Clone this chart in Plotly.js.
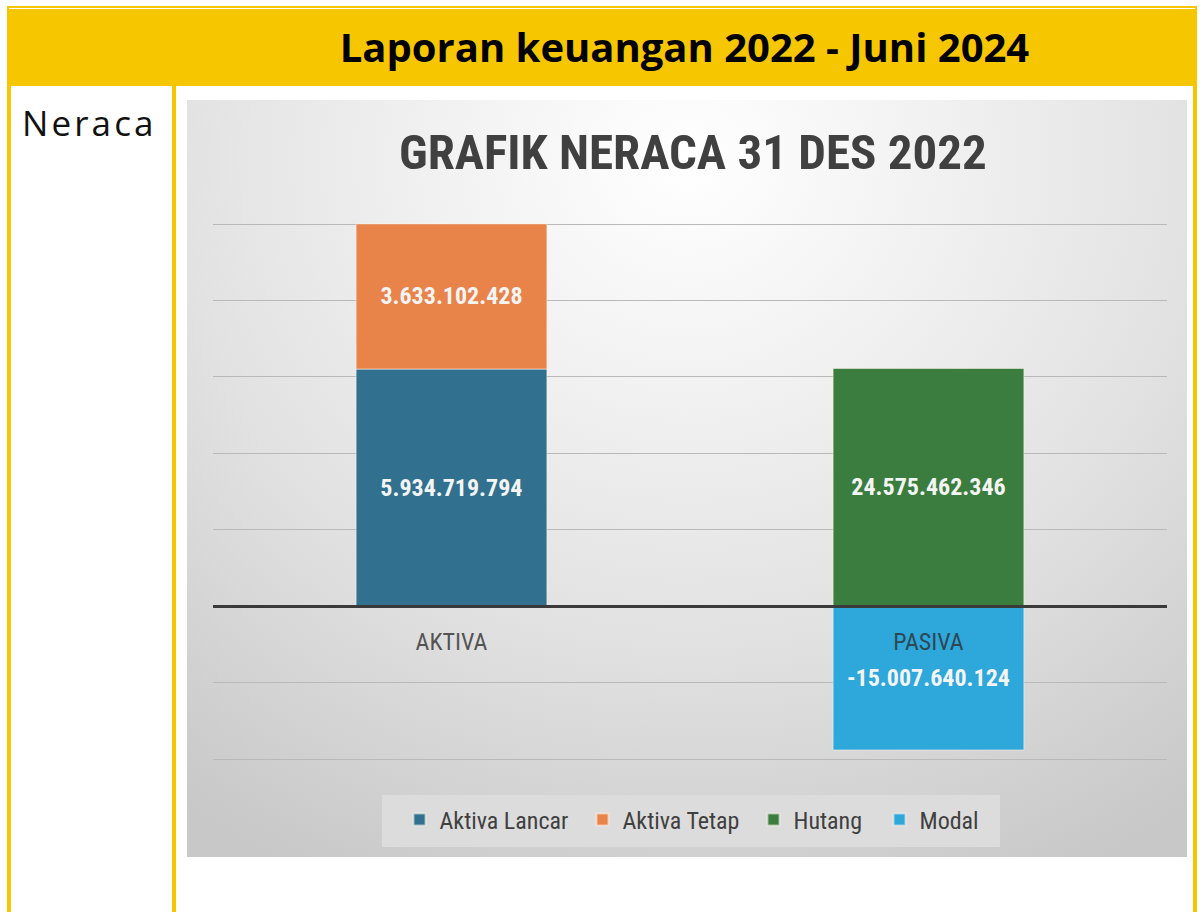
<!DOCTYPE html>
<html>
<head>
<meta charset="utf-8">
<script src="https://cdn.plot.ly/plotly-3.0.1.min.js"></script>
<style>
  html, body { margin: 0; padding: 0; background: #ffffff; }
  #page { position: relative; width: 1202px; height: 912px; overflow: hidden; background: #ffffff; }
  .y { position: absolute; background: #F6C700; }
  .w { position: absolute; background: #ffffff; }
  #head { position: absolute; left: 176px; top: 9px; width: 1017px; height: 77px; display: flex; align-items: center; justify-content: center; }
  #head span { font-family: "Open Sans", "DejaVu Sans", sans-serif; font-weight: 700; font-size: 40px; line-height: 50px; color: #000; margin-top: -2px; }
  #neraca { position: absolute; left: 22px; top: 98px; font-family: "Open Sans", "DejaVu Sans", sans-serif; font-weight: 400; font-size: 35px; line-height: 50px; color: #111; letter-spacing: 3.1px; }
  #chart { position: absolute; left: 187px; top: 100px; width: 1000px; height: 757px;
    background: radial-gradient(ellipse 85% 105% at 50% 8%, #ffffff 0%, #f1f1f1 30%, #e2e2e2 60%, #c8c8c8 100%); }
  #chart svg text { font-stretch: 75%; }
</style>
</head>
<body>
<div id="page">
  <div class="y" style="left:7px;top:6px;width:1190px;height:80px;"></div>
  <div class="w" style="left:9px;top:8px;width:1186px;height:1px;"></div>
  <div class="y" style="left:7px;top:86px;width:4px;height:826px;"></div>
  <div class="y" style="left:172px;top:86px;width:4px;height:826px;"></div>
  <div class="y" style="left:1193px;top:86px;width:4px;height:826px;"></div>
  <div id="head"><span>Laporan keuangan 2022 - Juni 2024</span></div>
  <div id="neraca">Neraca</div>
  <div id="chart"></div>
</div>
<script>
// ---- data ----
const chartTitle = 'GRAFIK NERACA 31 DES 2022';
const categories = ['AKTIVA', 'PASIVA'];
const seriesNames = ['Aktiva Lancar', 'Aktiva Tetap', 'Hutang', 'Modal'];
const seriesCategory = ['AKTIVA', 'AKTIVA', 'PASIVA', 'PASIVA'];
// bar heights as drawn (Rupiah)
const barHeights = [5934719794, 3633102428, 5950000000, -3600000000];
// data labels as printed on the bars
const dataLabels = ['5.934.719.794', '3.633.102.428', '24.575.462.346', '-15.007.640.124'];
const seriesColors = ['#31718F', '#E8834A', '#3A7D3E', '#2EA7DB'];
const gridStep = 1.913e9;
// legend entry widths (px) so that the entries are spaced like the original
const legendEntryWidths = [138, 126, 81, 70];

const cond = 'Roboto, "Open Sans", sans-serif';
const pxPerStep = 76.5, epsPx = 3;
const eps = gridStep * epsPx / pxPerStep;
const plotH = 7 * pxPerStep + 2 * epsPx;          // plot-area height in px
const plotBottomPx = 759 - 100 + epsPx;           // plot-area bottom inside the chart box
const py = (pxFromChartTop) => (plotBottomPx - pxFromChartTop) / plotH;
const px = (pxFromChartLeft) => (pxFromChartLeft - 26) / 954;

const traces = seriesNames.map((name, i) => ({
  type: 'bar',
  name: name,
  legendwidth: legendEntryWidths[i],
  x: [seriesCategory[i]],
  y: [barHeights[i]],
  text: [dataLabels[i]],
  textposition: 'inside',
  insidetextanchor: 'middle',
  textangle: 0,
  textfont: { family: cond, size: 24, color: '#f4f4f4', weight: 700 },
  marker: { color: seriesColors[i], line: { color: 'rgba(255,245,235,0.55)', width: 1 } },
  hoverinfo: 'skip'
}));

const layout = {
  width: 1000,
  height: 757,
  margin: { l: 26, r: 20, t: 123.5 - epsPx, b: 98 - epsPx, autoexpand: false },
  paper_bgcolor: 'rgba(0,0,0,0)',
  plot_bgcolor: 'rgba(0,0,0,0)',
  barmode: 'relative',
  bargap: 0.6,
  showlegend: true,
  title: {
    text: chartTitle,
    font: { family: cond, size: 49, color: '#404040', weight: 700 },
    x: 0.503, xanchor: 'center', xref: 'paper',
    y: 1 - 52 / 757, yref: 'container', yanchor: 'middle'
  },
  xaxis: {
    type: 'category',
    categoryorder: 'array',
    categoryarray: categories,
    range: [-0.5, 1.5],
    anchor: 'free',
    position: (2 * gridStep + eps) / (7 * gridStep + 2 * eps),
    showline: true,
    linecolor: '#3a3a3a',
    linewidth: 3,
    layer: 'above traces',
    ticks: '',
    ticklabelstandoff: 13,
    tickfont: { family: cond, size: 24, color: 'rgba(45,45,45,0.8)' },
    showgrid: false,
    zeroline: false,
    fixedrange: true
  },
  yaxis: {
    range: [-2 * gridStep - eps, 5 * gridStep + eps],
    dtick: gridStep,
    tick0: 0,
    showticklabels: false,
    ticks: '',
    showgrid: true,
    gridcolor: '#b9b9b9',
    gridwidth: 1,
    zeroline: false,
    showline: false,
    fixedrange: true
  },
  shapes: [{
    type: 'rect', xref: 'paper', yref: 'paper', layer: 'below',
    x0: px(382 - 187), x1: px(1000 - 187), y0: py(795 - 100), y1: py(847 - 100),
    fillcolor: '#dcdcdc', line: { width: 0 }
  }],
  legend: {
    orientation: 'h',
    x: px(697 - 187), xanchor: 'center',
    y: py(820 - 100), yanchor: 'middle',
    bgcolor: 'rgba(0,0,0,0)',
    borderwidth: 0,
    font: { family: cond, size: 24, color: '#404040' },
    itemsizing: 'constant'
  }
};

Plotly.newPlot('chart', traces, layout, { staticPlot: true, displayModeBar: false });
</script>
</body>
</html>
